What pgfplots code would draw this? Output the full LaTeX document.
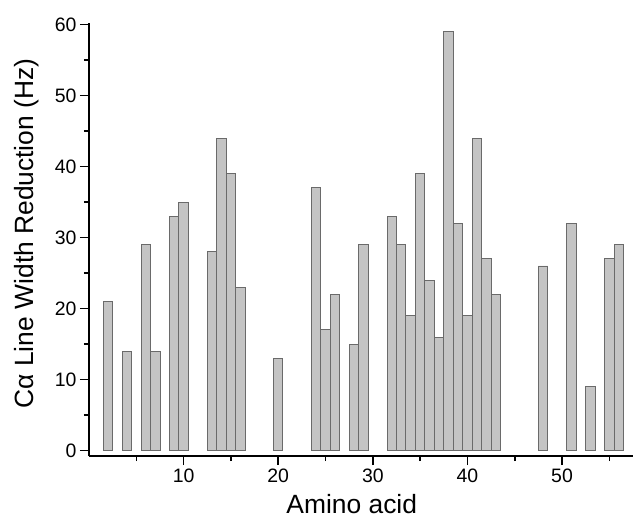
\documentclass[border=0pt]{standalone}
\usepackage{pgfplots}
\pgfplotsset{compat=1.18}
\usepackage{fontspec}
\setmainfont{Liberation Sans}
\definecolor{barfill}{HTML}{C4C4C4}
\definecolor{barline}{HTML}{6A6A6A}
\begin{document}
\begin{tikzpicture}
\path[use as bounding box] (-89bp,-64bp) rectangle (544bp,456bp);
\begin{axis}[
  at={(0,0)}, anchor=south west,
  scale only axis, width=544bp, height=433bp,
  xmin=0, xmax=57.5, ymin=-0.75, ymax=60.2,
  axis x line=bottom, axis y line=left,
  axis line style={-, line width=1.6bp, black},
  xtick={10,20,30,40,50}, minor xtick={5,15,25,35,45,55},
  ytick={0,10,20,30,40,50,60}, minor ytick={5,15,25,35,45,55},
  tick align=outside,
  major tick length=9bp, minor tick length=5bp,
  tick style={line width=1.6bp, black},
  /pgf/number format/assume math mode=true,
  tick label style={font=\fontsize{19.5}{21}\selectfont},
  xlabel={Amino acid}, ylabel={Cα Line Width Reduction (Hz)},
  label style={font=\fontsize{26.5}{29}\selectfont},
  xlabel style={at={(axis description cs:0.483,-0.1325)}, anchor=base, inner sep=0pt},
  ylabel style={at={(axis description cs:-0.115,0.514)}, anchor=center},
  ybar, bar width=1,
]
\addplot[fill=barfill, draw=barline, line width=0.9bp] coordinates {
(2,21) (4,14) (6,29) (7,14) (9,33) (10,35)
(13,28) (14,44) (15,39) (16,23) (20,13)
(24,37) (25,17) (26,22) (28,15) (29,29)
(32,33) (33,29) (34,19) (35,39) (36,24) (37,16) (38,59) (39,32) (40,19) (41,44) (42,27) (43,22)
(48,26) (51,32) (53,9) (55,27) (56,29)
};
\end{axis}
\end{tikzpicture}
\end{document}
